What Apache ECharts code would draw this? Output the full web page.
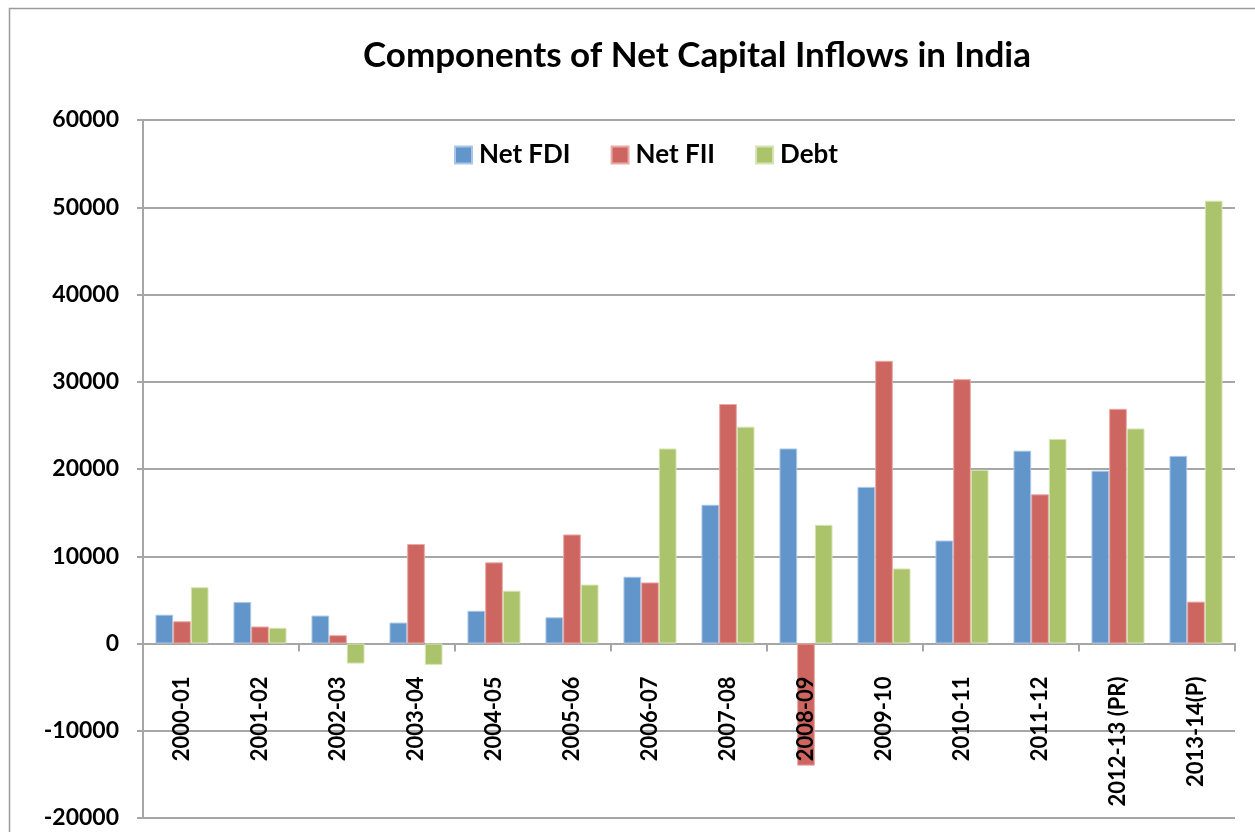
<!DOCTYPE html>
<html>
<head>
<meta charset="utf-8">
<script src="https://cdn.jsdelivr.net/npm/echarts@6/dist/echarts.min.js"></script>
<style>
html,body{margin:0;padding:0;background:#fff;}
#chart{width:1255px;height:832px;}
</style>
</head>
<body>
<div id="chart"></div>
<script>
const categories = ['2000-01','2001-02','2002-03','2003-04','2004-05','2005-06','2006-07','2007-08','2008-09','2009-10','2010-11','2011-12','2012-13 (PR)','2013-14(P)'];
const netFDI = [3300, 4750, 3200, 2400, 3750, 3000, 7650, 15900, 22350, 17950, 11800, 22100, 19800, 21500];
const netFII = [2550, 1950, 950, 11400, 9300, 12500, 7000, 27450, -14000, 32400, 30300, 17100, 26900, 4800];
const debt = [6450, 1800, -2300, -2450, 6050, 6750, 22350, 24850, 13600, 8600, 19900, 23450, 24650, 50750];
const yTicks = {min: -20000, max: 60000, interval: 10000};
const titleText = 'Components of Net Capital Inflows in India';

const chart = echarts.init(document.getElementById('chart'), null, {renderer: 'canvas'});
const gridColor = '#a6a6a6';
const gridTop = 120, gridBottom = 14, chartH = 832;
function barSeries(name, data, color, border) {
  return {
    name: name, type: 'bar', data: data,
    barGap: '0%', barCategoryGap: '32%',
    itemStyle: {color: color, borderColor: border, borderWidth: 1},
    emphasis: {disabled: true}
  };
}
// distance from grid bottom up to the zero line, from the axis scale
const plotH = chartH - gridTop - gridBottom;
const zeroFromBottom = plotH * (0 - yTicks.min) / (yTicks.max - yTicks.min);

chart.setOption({
  animation: false,
  backgroundColor: '#ffffff',
  graphic: [{
    type: 'rect', left: 7, top: 6, silent: true,
    shape: {width: 1260, height: 840},
    style: {fill: 'none', stroke: '#9a9a9a', lineWidth: 1.5}
  }],
  title: {
    text: titleText, left: 692, top: 33, textAlign: 'center',
    textStyle: {fontFamily: 'Lato', fontWeight: 'bold', fontSize: 35, color: '#000'}
  },
  legend: {
    left: 449, top: 137, itemWidth: 17, itemHeight: 17, itemGap: 40,
    icon: 'rect',
    textStyle: {fontFamily: 'Lato', fontWeight: 'bold', fontSize: 26, color: '#000', padding: [0,0,0,2]},
    data: ['Net FDI', 'Net FII', 'Debt']
  },
  grid: {left: 143, right: 20, top: gridTop, bottom: gridBottom, containLabel: false, outerBoundsMode: 'none'},
  xAxis: [{
    type: 'category', data: categories,
    axisLine: {onZero: true, lineStyle: {color: gridColor, width: 2}},
    axisTick: {show: true, length: 8, lineStyle: {color: gridColor, width: 2}},
    axisLabel: {show: false}
  }, {
    type: 'category', data: categories, position: 'bottom', z: 10,
    offset: -zeroFromBottom,
    axisLine: {show: false, onZero: false},
    axisTick: {show: false},
    axisLabel: {rotate: 90, margin: 33, interval: 0, color: '#000',
      fontFamily: 'Lato', fontWeight: 'bold', fontSize: 22}
  }],
  yAxis: {
    type: 'value', min: yTicks.min, max: yTicks.max, interval: yTicks.interval,
    axisLine: {show: true, lineStyle: {color: gridColor, width: 2}},
    axisTick: {show: true, length: 6, lineStyle: {color: gridColor, width: 2}},
    splitLine: {show: true, lineStyle: {color: gridColor, width: 2}},
    axisLabel: {margin: 24, color: '#000', fontFamily: 'Lato', fontWeight: 'bold', fontSize: 23,
      formatter: function (v) { return String(v); }}
  },
  series: [
    barSeries('Net FDI', netFDI, '#6296CB', '#a9c6e6'),
    barSeries('Net FII', netFII, '#CD6660', '#eba9a5'),
    barSeries('Debt', debt, '#ABC46C', '#d6e4b4')
  ]
});
</script>
</body>
</html>
